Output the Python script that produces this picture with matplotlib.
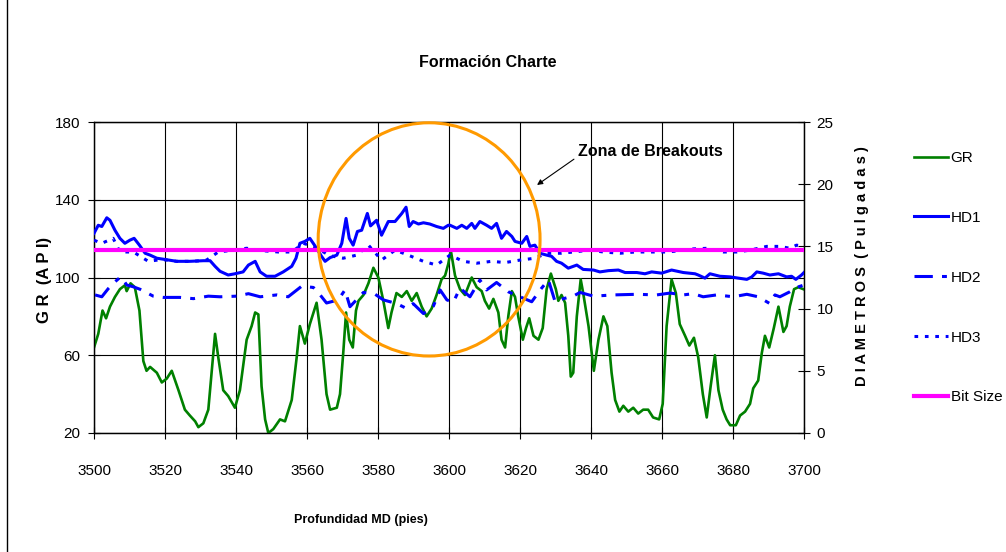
import matplotlib
matplotlib.use("Agg")
import matplotlib.pyplot as plt
import numpy as np
from matplotlib.patches import Ellipse
from matplotlib.lines import Line2D

plt.rcParams['font.family'] = ['Liberation Sans', 'DejaVu Sans']

# GR (API) vs depth
gr_depth = [3500.0, 3501.2, 3502.4, 3503.4, 3504.5, 3505.9, 3507.3, 3508.7, 3509.2, 3510.3,
            3511.5, 3512.8, 3513.9, 3514.8, 3515.8, 3517.7, 3519.1, 3520.5, 3521.9, 3523.8,
            3525.6, 3527.0, 3528.5, 3529.4, 3530.8, 3532.2, 3534.1, 3535.0, 3536.4, 3537.8,
            3539.7, 3541.1, 3543.0, 3544.4, 3545.4, 3546.3, 3547.2, 3548.2, 3549.1, 3550.5,
            3552.4, 3553.8, 3555.7, 3557.1, 3558.0, 3559.4, 3560.8, 3562.7, 3564.1, 3565.5,
            3566.5, 3568.4, 3569.3, 3570.2, 3571.0, 3571.9, 3572.9, 3573.8, 3574.5, 3575.9,
            3577.3, 3578.7, 3580.1, 3581.5, 3582.9, 3583.8, 3585.2, 3586.7, 3588.1, 3589.5,
            3590.9, 3592.3, 3593.7, 3595.1, 3596.5, 3597.9, 3598.9, 3599.8, 3600.5, 3601.7,
            3603.1, 3604.5, 3606.4, 3607.8, 3609.2, 3610.1, 3611.3, 3612.5, 3613.9, 3614.8,
            3615.8, 3616.7, 3617.7, 3618.6, 3619.5, 3620.8, 3621.7, 3622.6, 3623.8, 3625.2,
            3626.4, 3627.5, 3628.7, 3630.1, 3630.8, 3631.7, 3632.7, 3633.6, 3634.3, 3635.0,
            3636.0, 3637.1, 3637.8, 3639.3, 3640.8, 3642.1, 3643.5, 3644.6, 3645.8, 3646.8,
            3648.0, 3649.1, 3650.5, 3651.9, 3653.3, 3654.7, 3656.1, 3657.5, 3659.2, 3660.2,
            3661.3, 3662.7, 3663.9, 3665.0, 3666.5, 3667.7, 3669.0, 3670.2, 3671.5, 3672.6,
            3673.7, 3674.9, 3675.9, 3677.1, 3678.2, 3679.2, 3680.8, 3682.0, 3683.4, 3684.8,
            3685.7, 3687.1, 3688.1, 3689.0, 3690.2, 3691.5, 3692.8, 3694.2, 3695.1, 3696.0,
            3697.2, 3698.4, 3699.8]
gr = [64, 71, 83, 79, 85, 90, 94, 96, 93, 97,
      95, 83, 57, 52, 54, 51, 46, 48, 52, 42,
      32, 29, 26, 23, 25, 32, 71, 59, 42, 39,
      33, 42, 68, 75, 82, 81, 44, 27, 20, 22,
      27, 26, 37, 59, 75, 66, 76, 87, 68, 40,
      32, 33, 40, 61, 82, 68, 64, 83, 88, 91,
      97, 105, 100, 88, 74, 82, 92, 90, 93, 88,
      92, 85, 80, 84, 91, 99, 101, 107, 114, 101,
      94, 91, 100, 95, 93, 88, 84, 89, 82, 68,
      64, 80, 93, 90, 80, 68, 74, 79, 70, 68,
      74, 94, 102, 94, 88, 91, 87, 70, 49, 51,
      80, 99, 92, 75, 52, 68, 80, 75, 51, 37,
      31, 34, 31, 33, 30, 32, 32, 28, 27, 35,
      75, 99, 92, 76, 70, 65, 69, 59, 40, 28,
      44, 60, 42, 32, 27, 24, 24, 29, 31, 35,
      43, 47, 61, 70, 64, 74, 85, 72, 75, 85,
      94, 95, 94]

# HD1 (pulgadas)
hd1_depth = [3500.0, 3501.2, 3502.2, 3503.6, 3504.5, 3505.9, 3507.3, 3508.7, 3510.1, 3511.3,
             3512.8, 3514.4, 3515.8, 3517.7, 3520.0, 3523.3, 3527.0, 3530.8, 3532.7, 3534.1,
             3535.5, 3537.8, 3539.7, 3542.0, 3543.5, 3545.4, 3546.8, 3548.6, 3551.0, 3553.3,
             3555.7, 3556.9, 3558.0, 3559.4, 3560.8, 3562.7, 3564.1, 3565.1, 3566.5, 3568.4,
             3569.8, 3571.0, 3571.9, 3573.0, 3574.2, 3575.4, 3577.0, 3577.9, 3579.6, 3581.0,
             3582.9, 3584.8, 3586.7, 3587.9, 3588.8, 3589.9, 3591.4, 3592.8, 3594.6, 3596.5,
             3598.4, 3599.8, 3600.3, 3602.2, 3603.6, 3605.0, 3606.4, 3607.3, 3608.7, 3610.6,
             3612.0, 3613.4, 3614.8, 3616.2, 3617.7, 3618.6, 3620.5, 3621.9, 3622.8, 3624.2,
             3625.6, 3627.5, 3628.9, 3630.3, 3631.7, 3633.6, 3636.0, 3637.8, 3640.7, 3642.5,
             3644.9, 3647.7, 3649.6, 3652.9, 3655.2, 3657.1, 3659.9, 3662.7, 3666.0, 3669.3,
             3670.2, 3672.1, 3673.5, 3676.3, 3679.2, 3681.5, 3683.9, 3685.3, 3686.7, 3688.5,
             3690.4, 3692.8, 3695.1, 3696.5, 3697.7, 3699.3, 3700.0]
hd1 = [16.05, 16.7, 16.6, 17.3, 17.1, 16.3, 15.65, 15.25, 15.5, 15.65,
       15.1, 14.45, 14.3, 14.05, 13.95, 13.8, 13.8, 13.85, 13.85, 13.4,
       13.0, 12.7, 12.8, 12.95, 13.5, 13.8, 12.95, 12.6, 12.6, 12.95,
       13.4, 14.05, 15.25, 15.4, 15.65, 14.85, 14.2, 13.8, 14.1, 14.3,
       15.25, 17.25, 15.65, 15.1, 16.2, 16.3, 17.65, 16.65, 17.1, 15.9,
       17.0, 17.0, 17.65, 18.15, 16.6, 17.0, 16.8, 16.9, 16.8, 16.6,
       16.45, 16.7, 16.7, 16.45, 16.7, 16.45, 16.85, 16.45, 17.0, 16.7,
       16.45, 16.85, 15.65, 16.2, 15.8, 15.4, 15.25, 15.8, 15.0, 15.1,
       14.45, 14.3, 14.2, 13.8, 13.65, 13.25, 13.5, 13.15, 13.1, 12.95,
       13.05, 13.1, 12.9, 12.9, 12.8, 12.95, 12.85, 13.1, 12.9, 12.8,
       12.7, 12.45, 12.8, 12.6, 12.55, 12.45, 12.35, 12.55, 12.95, 12.85,
       12.7, 12.8, 12.55, 12.6, 12.35, 12.7, 12.9]

# HD2 (pulgadas)
hd2_depth = [3500.3, 3502.2, 3504.0, 3505.9, 3507.5, 3508.3, 3509.2, 3511.1, 3513.0, 3516.7,
             3519.5, 3524.2, 3528.0, 3532.2, 3535.5, 3540.2, 3543.5, 3546.8, 3551.5, 3554.7,
             3558.5, 3561.8, 3563.7, 3565.5, 3568.8, 3570.7, 3572.1, 3575.9, 3579.2, 3581.5,
             3585.3, 3588.1, 3589.9, 3592.8, 3595.6, 3597.5, 3599.4, 3601.2, 3603.1, 3605.9,
             3608.7, 3610.6, 3613.4, 3616.7, 3620.0, 3623.3, 3626.1, 3628.0, 3629.9, 3632.2,
             3635.0, 3636.9, 3640.7, 3646.3, 3652.9, 3658.5, 3662.3, 3666.0, 3668.8, 3671.6,
             3675.4, 3680.1, 3683.9, 3687.1, 3690.4, 3691.8, 3693.2, 3696.0, 3697.9, 3700.0]
hd2 = [11.1, 10.95, 11.6, 12.15, 12.55, 12.3, 11.9, 11.75, 11.55, 11.0,
       10.9, 10.9, 10.8, 11.0, 10.95, 11.0, 11.2, 10.95, 11.1, 10.95,
       11.8, 11.7, 11.1, 10.45, 10.7, 11.5, 10.15, 11.3, 11.15, 10.7,
       10.4, 10.0, 10.4, 9.6, 10.2, 11.5, 10.7, 10.5, 11.65, 10.95,
       12.3, 11.5, 12.1, 11.35, 10.95, 10.55, 11.65, 12.3, 10.55, 10.8,
       11.0, 11.3, 11.0, 11.1, 11.15, 11.1, 11.25, 11.1, 11.2, 10.95,
       11.1, 10.95, 11.15, 10.95, 10.4, 11.1, 10.95, 11.35, 11.7, 11.9]

# HD3 (pulgadas)
hd3_depth = [3500.0, 3502.2, 3505.4, 3507.3, 3511.1, 3515.3, 3519.1, 3523.3, 3528.0, 3531.7,
             3535.0, 3539.2, 3543.0, 3547.7, 3551.9, 3555.7, 3559.0, 3562.5, 3566.5, 3570.2,
             3574.0, 3577.3, 3581.0, 3584.8, 3588.5, 3592.8, 3596.5, 3600.3, 3604.0, 3607.8,
             3612.0, 3615.8, 3620.0, 3624.2, 3627.5, 3631.7, 3635.0, 3639.7, 3643.5, 3648.2,
             3652.4, 3656.6, 3661.3, 3665.0, 3668.8, 3673.0, 3677.3, 3681.0, 3684.8, 3689.5,
             3693.2, 3696.0, 3697.9, 3700.0]
hd3 = [15.5, 15.25, 15.65, 14.55, 14.55, 13.8, 13.95, 13.8, 13.8, 13.9,
       14.55, 14.7, 14.85, 14.65, 14.55, 14.55, 15.25, 14.9, 14.25, 14.05,
       14.3, 15.1, 13.9, 14.7, 14.3, 13.8, 13.5, 14.3, 13.8, 13.65,
       13.8, 13.7, 13.9, 14.05, 14.45, 14.45, 14.55, 14.7, 14.55, 14.45,
       14.55, 14.55, 14.55, 14.65, 14.8, 14.85, 14.55, 14.55, 14.7, 15.0,
       15.0, 14.85, 15.1, 15.0]

bit_size = 14.75
depth_range = [3500, 3700]

W, H = 1006, 552
fig = plt.figure(figsize=(W / 100, H / 100), dpi=100)
fig.patch.set_facecolor('white')

ax = fig.add_axes([94 / W, 119 / H, 710 / W, 311 / H])
ax2 = ax.twinx()

tick_fs = 11

# GR on the primary axis
ax.plot(gr_depth, gr, color='#008000', lw=1.9, label='GR', zorder=3)
ax.set_xlim(3500, 3700)
ax.set_ylim(20, 180)
ax.set_xticks(np.arange(3500, 3701, 20))
ax.set_yticks(np.arange(20, 181, 40))
ax.grid(True, color='black', lw=0.8)
ax.set_axisbelow(True)
ax.tick_params(axis='both', direction='inout', length=8, width=0.8, labelsize=tick_fs)
ax.tick_params(axis='x', pad=18)
ax.tick_params(axis='y', pad=6)

# calipers and bit size on the secondary axis
ax2.plot(hd1_depth, hd1, color='#0000FF', lw=2.2, label='HD1', zorder=3)
ax2.plot(hd2_depth, hd2, color='#0000FF', lw=2.2, linestyle=(0, (6, 3, 1.6, 3)), label='HD2', zorder=3)
ax2.plot(hd3_depth, hd3, color='#0000FF', lw=2.2, linestyle=(0, (1.2, 2.2)), label='HD3', zorder=3)
ax2.plot(depth_range, [bit_size, bit_size], color='#FF00FF', lw=3, label='Bit Size', zorder=4)
ax2.set_ylim(0, 25)
ax2.set_yticks(np.arange(0, 26, 5))
ax2.tick_params(axis='y', direction='inout', length=8, width=0.8, labelsize=tick_fs, pad=5)

for a in (ax, ax2):
    for s in a.spines.values():
        s.set_linewidth(0.9)
        s.set_color('black')

# breakout zone circle
circle = Ellipse((3594.4, 119.6), 62.5, 120, transform=ax.transData, fill=False,
                 edgecolor='#FF9A00', lw=2.2, zorder=10, clip_on=False)
ax2.add_patch(circle)

ax.annotate('Zona de Breakouts', xy=(3624.8, 147.6), xytext=(3636.3, 164.6),
            xycoords='data', textcoords='data', ha='left', va='center',
            fontsize=11.5, fontweight='bold', zorder=11,
            arrowprops=dict(arrowstyle='-|>', color='black', lw=0.8,
                            mutation_scale=8, relpos=(0, 0.2), shrinkA=1, shrinkB=0))

# texts
fig.text(488 / W, 1 - 62 / H, 'Formación Charte', ha='center', va='center',
         fontsize=11.5, fontweight='bold')
fig.text(361 / W, 1 - 520 / H, 'Profundidad MD (pies)', ha='center', va='center',
         fontsize=9, fontweight='bold')
fig.text(45 / W, 1 - 280 / H, 'G R  (A P I)', ha='center', va='center',
         rotation=90, fontsize=12, fontweight='bold')
fig.text(862 / W, 1 - 266 / H, 'D I A M E T R O S  ( P u l g a d a s )', ha='center',
         va='center', rotation=90, fontsize=10.5, fontweight='bold')

# legend
h1, l1 = ax.get_legend_handles_labels()
h2, l2 = ax2.get_legend_handles_labels()
fig.legend(h1 + h2, l1 + l2, loc='upper left', bbox_to_anchor=(914 / W, 1 - 151 / H),
           frameon=False, fontsize=tick_fs, handlelength=2.2, handletextpad=0.2,
           labelspacing=3.0, borderpad=0, borderaxespad=0)

# chart border (left edge)
fig.add_artist(Line2D([7 / W, 7 / W], [0, 1], transform=fig.transFigure, color='black', lw=1))

fig.savefig('out.png', dpi=100)
